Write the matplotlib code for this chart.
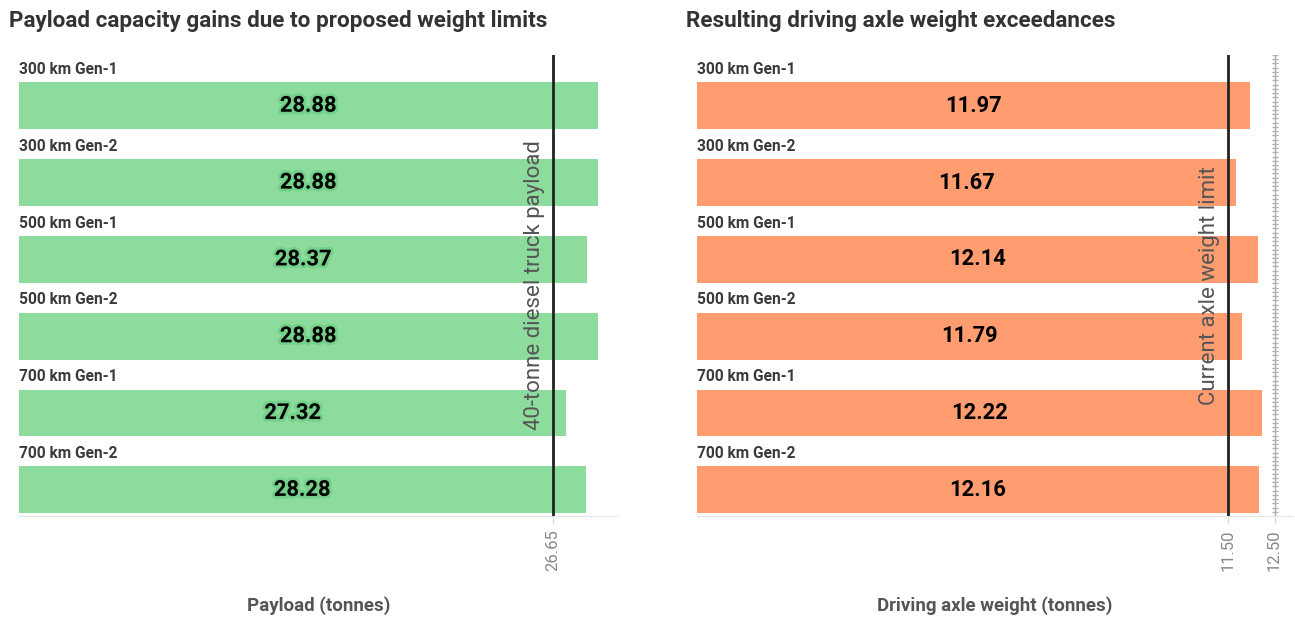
import numpy as np
import matplotlib.pyplot as plt
import matplotlib.patheffects as pe
from matplotlib.transforms import blended_transform_factory

plt.rcParams['font.family'] = ['Roboto', 'DejaVu Sans']

# ---------------------
# Data
# ---------------------
scenarios = ["300 km Gen-1", "300 km Gen-2", "500 km Gen-1",
             "500 km Gen-2", "700 km Gen-1", "700 km Gen-2"]
payload = [28.88, 28.88, 28.37, 28.88, 27.32, 28.28]
axle_weight = [11.97, 11.67, 12.14, 11.79, 12.22, 12.16]

diesel_payload = 26.65
axle_limit = 11.50
axle_proposed = 12.50

GREEN = "#8ddc9e"
ORANGE = "#ff9c70"
DARK = "#333333"
GREY = "#888888"

W, H = 1295, 617
fig = plt.figure(figsize=(W / 100, H / 100), dpi=100)


def px_axes(x0, x1, y0, y1):
    # pixel box (top-left origin) -> figure axes
    return fig.add_axes([x0 / W, 1 - y1 / H, (x1 - x0) / W, (y1 - y0) / H])


def bar_panel(ax, values, color, xmax, glow):
    y = np.arange(len(scenarios))
    bar_h = 0.61
    ax.barh(y, values, height=bar_h, color=color, zorder=1)
    ax.set_xlim(0, xmax)
    ax.set_ylim(len(scenarios) - 0.66, -0.66)

    for i, (name, v) in enumerate(zip(scenarios, values)):
        ax.text(0, i - bar_h / 2 - 0.07, name, ha="left", va="bottom",
                fontsize=11.2, fontweight="bold", color="#3a3a3a")
        effects = []
        if glow:
            effects = [pe.withStroke(linewidth=4, foreground="#55c472", alpha=0.45)]
        ax.text(v / 2, i, f"{v:.2f}", ha="center", va="center",
                fontsize=15.8, fontweight="bold", color="black",
                path_effects=effects, zorder=3)

    ax.set_yticks([])
    for s in ["top", "right", "left"]:
        ax.spines[s].set_visible(False)
    ax.spines["bottom"].set_color("#e6e6e6")
    ax.tick_params(axis="x", colors="#dddddd", labelcolor=GREY,
                   labelsize=12, length=6, width=1, labelrotation=90)


def ref_line(ax, x, label):
    ax.axvline(x, color="#222222", linewidth=2, zorder=4)
    trans = blended_transform_factory(ax.transData, ax.transAxes)
    ax.annotate(label, xy=(x, 0.5), xycoords=trans, xytext=(-6, 0),
                textcoords="offset points", rotation=90, ha="right",
                va="center", fontsize=16, color="#555555", zorder=5)


# -------------------------
# Left: payload
# -------------------------
ax1 = px_axes(19, 618, 55, 516)
bar_panel(ax1, payload, GREEN, 29.9, glow=True)
ref_line(ax1, diesel_payload, "40-tonne diesel truck payload")
ax1.set_xticks([diesel_payload])
ax1.set_xticklabels([f"{diesel_payload:.2f}"])
ax1.set_xlabel("Payload (tonnes)", fontsize=13.5, fontweight="bold",
               color="#555555", labelpad=18)

# -------------------------
# Right: driving axle weight
# -------------------------
ax2 = px_axes(697, 1293, 55, 516)
bar_panel(ax2, axle_weight, ORANGE, 12.9, glow=False)
ref_line(ax2, axle_limit, "Current axle weight limit")
ylo, yhi = ax2.get_ylim()
ticks_y = np.linspace(yhi, ylo, 110)
ax2.plot([axle_proposed] * len(ticks_y), ticks_y, color="#b0b0b0",
         linewidth=1, marker="_", markersize=5, markeredgewidth=1, zorder=2)
ax2.set_xticks([axle_limit, axle_proposed])
ax2.set_xticklabels([f"{axle_limit:.2f}", f"{axle_proposed:.2f}"])
ax2.set_xlabel("Driving axle weight (tonnes)", fontsize=13.5,
               fontweight="bold", color="#555555", labelpad=18)

# -------------------------
# Titles
# -------------------------
fig.text(9 / W, 1 - 21 / H, "Payload capacity gains due to proposed weight limits",
         ha="left", va="center", fontsize=16.2, fontweight="bold", color=DARK)
fig.text(686 / W, 1 - 21 / H, "Resulting driving axle weight exceedances",
         ha="left", va="center", fontsize=16.2, fontweight="bold", color=DARK)

fig.savefig("out.png", dpi=100)
